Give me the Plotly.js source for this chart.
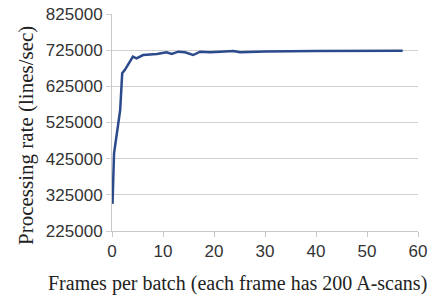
<!DOCTYPE html>
<html>
<head>
<meta charset="utf-8">
<script src="https://cdn.plot.ly/plotly-3.0.1.min.js"></script>
<style>html,body{margin:0;padding:0;background:#fff;}#chart{width:431px;height:295px;}</style>
</head>
<body>
<div id="chart"></div>
<script>
const framesPerBatch = [0.1, 0.4, 1.6, 2.0, 2.5, 4.1, 4.8, 6.1, 8.8, 10.7, 11.7, 13, 14.3, 15.9, 17.3, 19.2, 21.2, 23.8, 25.1, 30, 40, 50, 57];
const processingRate = [300000, 440000, 559000, 661000, 670000, 707000, 702500, 711600, 714400, 719000, 714400, 720800, 719000, 711600, 720800, 719000, 720800, 722700, 719000, 721500, 723000, 723500, 723500];
const yTicks = [225000, 325000, 425000, 525000, 625000, 725000, 825000];
const xTicks = [0, 10, 20, 30, 40, 50, 60];
const xTitle = 'Frames per batch (each frame has 200 A-scans)';
const yTitle = 'Processing rate (lines/sec)';

const serif = 'Liberation Serif, Times New Roman, serif';
Plotly.newPlot('chart', [{
  x: framesPerBatch,
  y: processingRate,
  type: 'scatter',
  mode: 'lines',
  line: {color: '#2b4a8b', width: 2.5},
  hoverinfo: 'skip'
}], {
  width: 431, height: 295,
  margin: {l: 112, r: 13, t: 14, b: 64},
  paper_bgcolor: '#fff', plot_bgcolor: '#fff',
  showlegend: false,
  xaxis: {
    range: [0, 60], tickvals: xTicks, ticktext: xTicks.map(String),
    showgrid: false, zeroline: false,
    showline: true, linecolor: '#c8c8c8', linewidth: 1,
    ticks: 'outside', ticklen: 5, tickcolor: '#c8c8c8',
    tickfont: {family: 'Liberation Sans, Arial, sans-serif', size: 17, color: '#333'}
  },
  yaxis: {
    range: [225000, 825000], tickvals: yTicks, ticktext: yTicks.map(String),
    showgrid: true, gridcolor: '#d0d0d0', gridwidth: 1, zeroline: false,
    showline: true, linecolor: '#c8c8c8', linewidth: 1,
    ticks: 'outside', ticklen: 5, tickcolor: '#d0d0d0',
    tickfont: {family: 'Liberation Sans, Arial, sans-serif', size: 17, color: '#333'}
  },
  annotations: [
    {text: xTitle, xref: 'paper', yref: 'paper', x: 0.41, y: -0.24, xanchor: 'center', yanchor: 'middle', showarrow: false,
     font: {family: serif, size: 20, color: '#222'}},
    {text: yTitle, xref: 'paper', yref: 'paper', x: -0.281, y: 0.438, xanchor: 'center', yanchor: 'middle', showarrow: false, textangle: -90,
     font: {family: serif, size: 21, color: '#222'}}
  ]
}, {staticPlot: true, displayModeBar: false});
</script>
</body>
</html>
